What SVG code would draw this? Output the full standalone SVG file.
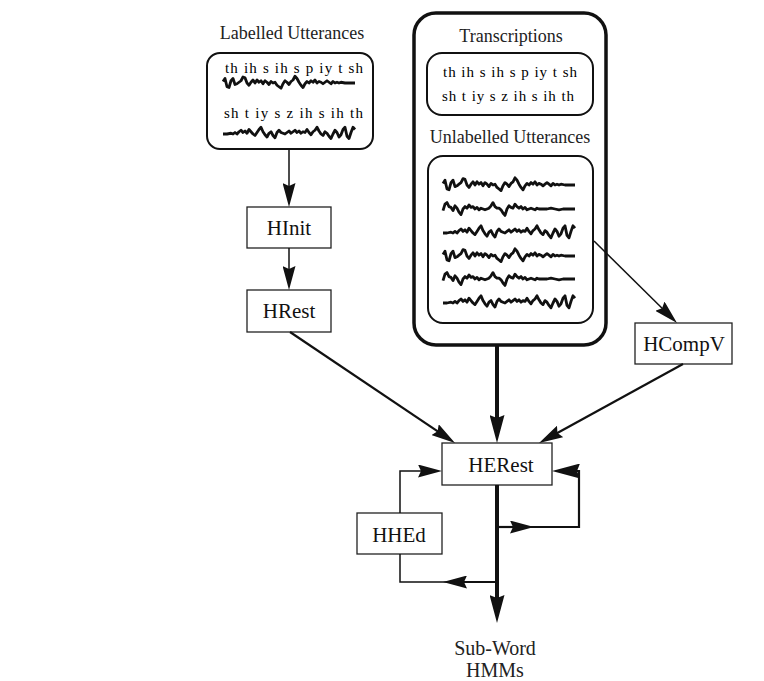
<svg xmlns="http://www.w3.org/2000/svg" xmlns:xlink="http://www.w3.org/1999/xlink" width="764" height="681" viewBox="0 0 764 681">
  <style>
    .lbl { font-family: "Liberation Serif", "Times New Roman", serif; font-size: 18px; fill: #222; text-anchor: middle; }
    .tool { font-family: "Liberation Serif", "Times New Roman", serif; font-size: 21px; fill: #111; text-anchor: middle; }
    .ph { font-family: "Liberation Serif", "Times New Roman", serif; font-size: 15px; fill: #000; }
    .box { fill: #fff; stroke: #222; stroke-width: 1.3; }
    .rbox { fill: none; stroke: #111; stroke-width: 2; }
    .outer { fill: none; stroke: #111; stroke-width: 3.5; }
    .wave { fill: none; stroke: #111; stroke-width: 2.8; stroke-linejoin: round; vector-effect: non-scaling-stroke; }
    .thin { fill: none; stroke: #111; stroke-width: 1.5; }
    .mid { fill: none; stroke: #111; stroke-width: 2.2; }
    .thick { fill: none; stroke: #111; stroke-width: 4; }
  </style>
  <defs>
    <marker id="arrow" viewBox="0 0 24 13" refX="13" refY="6.5" markerWidth="24" markerHeight="13" markerUnits="userSpaceOnUse" orient="auto">
      <path d="M0,0 L24,6.5 L0,13 L3,6.5 Z" fill="#111"/>
    </marker>
    <marker id="arrowBig" viewBox="0 0 28 15" refX="17" refY="7.5" markerWidth="28" markerHeight="15" markerUnits="userSpaceOnUse" orient="auto">
      <path d="M0,0 L28,7.5 L0,15 L3,7.5 Z" fill="#111"/>
    </marker>
    <!-- speech waveform shapes -->
    <polyline id="waveA" class="wave" points="0,-2 2,-6 4,5 6,6 8,-3 10,-6 12,2 14,1 16,-1 18,-3 20,-8 22,-7 24,0 26,3 28,-1 30,-4 32,0 34,-4 36,-1 38,-3 40,1 42,-3 44,-1 46,2 48,-2 50,0 52,-1 54,3 56,5 58,7 60,1 62,-3 64,-1 66,2 68,-2 70,-4 72,-9 74,-6 76,-1 78,3 80,6 82,1 84,-2 86,0 88,-3 90,-1 92,-4 94,0 96,-2 98,-1 100,1 102,-1 104,-3 106,-1 108,1 110,-2 112,0 114,-1 116,0 118,-1 122,0 126,0 132,0"/>
    <polyline id="waveB" class="wave" points="0,2 2,-6 4,-8 6,-3 8,-2 10,2 12,-4 14,-1 16,4 18,7 20,0 22,-3 24,-1 26,-5 28,-2 30,-3 32,0 34,-2 36,1 38,-1 40,0 42,1 44,0 46,-1 48,-4 50,-8 52,-3 54,-1 56,-1 58,1 60,5 62,8 64,0 66,-4 68,-2 70,-1 72,-6 74,-3 76,-1 78,-3 80,0 82,-2 84,1 86,0 88,-1 90,0 92,1 94,-1 96,0 100,0 104,0 108,-1 112,0 116,1 120,0 124,0 132,0"/>
    <polyline id="waveC" class="wave" points="0,0 4,0 8,-1 10,0 12,-2 14,0 16,-3 18,-5 20,-2 22,-4 24,-1 26,-6 28,-3 30,0 32,2 34,-2 36,-6 38,-9 40,-3 42,1 44,4 46,-1 48,-3 50,2 52,5 54,-2 56,-5 58,-2 60,-1 62,0 64,-2 66,-4 68,-1 70,-3 72,-5 74,-2 76,-4 78,-1 80,-3 82,-2 84,-6 86,-2 88,1 90,-3 92,-5 94,-9 96,-4 98,0 100,2 102,-3 104,-1 106,3 108,6 110,0 112,-5 114,-2 116,4 118,1 120,-6 122,-9 124,3 126,6 128,-2 130,-9 132,-6"/>
  </defs>

  <rect width="764" height="681" fill="#fff"/>

  <!-- labelled training data -->
  <g id="labelled">
    <text class="lbl" x="292" y="39">Labelled Utterances</text>
    <rect class="rbox" x="207" y="53" width="166" height="96" rx="13"/>
    <text class="ph" x="225" y="73" textLength="138" lengthAdjust="spacing">th  ih s ih s p iy t sh</text>
    <use xlink:href="#waveA" transform="translate(223,83) scale(1,0.75)"/>
    <text class="ph" x="224" y="118" textLength="139" lengthAdjust="spacing">sh t iy s z ih s ih th</text>
    <use xlink:href="#waveC" transform="translate(223,134) scale(1,0.75)"/>
  </g>

  <!-- unlabelled data with transcriptions -->
  <g id="unlabelled">
    <rect class="outer" x="414" y="13" width="192" height="332" rx="22"/>
    <text class="lbl" x="511" y="42">Transcriptions</text>
    <rect class="rbox" x="427" y="53" width="166" height="62" rx="15"/>
    <text class="ph" x="443" y="77" textLength="134" lengthAdjust="spacing">th  ih s ih s p iy t sh</text>
    <text class="ph" x="442" y="101" textLength="132" lengthAdjust="spacing">sh t iy s z ih s ih th</text>
    <text class="lbl" x="510" y="143">Unlabelled Utterances</text>
    <rect class="rbox" x="428" y="156" width="165" height="167" rx="15"/>
    <use xlink:href="#waveA" transform="translate(443,185) scale(1,0.8)"/>
    <use xlink:href="#waveB" transform="translate(443,209) scale(1,0.8)"/>
    <use xlink:href="#waveC" transform="translate(443,233) scale(1,0.8)"/>
    <use xlink:href="#waveA" transform="translate(443,256) scale(1,0.8)"/>
    <use xlink:href="#waveB" transform="translate(443,279) scale(1,0.8)"/>
    <use xlink:href="#waveC" transform="translate(443,303) scale(1,0.8)"/>
  </g>

  <g id="hinit">
    <rect class="box" x="247" y="207" width="84" height="41"/>
    <text class="tool" x="289" y="235">HInit</text>
  </g>

  <g id="hrest">
    <rect class="box" x="247" y="290" width="84" height="42"/>
    <text class="tool" x="289" y="318">HRest</text>
  </g>

  <g id="hcompv">
    <rect class="box" x="635" y="323" width="97" height="41"/>
    <text class="tool" x="684" y="351">HCompV</text>
  </g>

  <g id="herest">
    <rect class="box" x="442" y="443" width="110" height="42"/>
    <text class="tool" x="501" y="472">HERest</text>
  </g>

  <g id="hhed">
    <rect class="box" x="357" y="513" width="85" height="41"/>
    <text class="tool" x="399" y="542">HHEd</text>
  </g>

  <g id="output">
    <text class="lbl" x="495" y="655" style="font-size:20px">Sub-Word</text>
    <text class="lbl" x="495" y="677" style="font-size:20px">HMMs</text>
  </g>

  <g id="connectors">
    <path class="thin" d="M289,149 V196" marker-end="url(#arrow)"/>
    <path class="thin" d="M289,248 V279" marker-end="url(#arrow)"/>
    <path class="mid" d="M290,332 L445.9,436.9" marker-end="url(#arrow)"/>
    <path class="thick" d="M497,345 V432" marker-end="url(#arrowBig)"/>
    <path class="thin" d="M594,241 L669.2,315.3" marker-end="url(#arrow)"/>
    <path class="mid" d="M683,364 L548.7,437.7" marker-end="url(#arrow)"/>
    <path class="thin" d="M400,513 V471 H431" marker-end="url(#arrow)"/>
    <path class="thick" d="M497,485 V612" marker-end="url(#arrowBig)"/>
    <path class="mid" d="M497,527 H523" marker-end="url(#arrow)"/>
    <path class="mid" d="M522,527 H579 V471 H563" marker-end="url(#arrowBig)"/>
    <path class="mid" d="M497,582 H454" marker-end="url(#arrow)"/>
    <path class="thin" d="M455,582 H400 V554"/>
  </g>
</svg>
